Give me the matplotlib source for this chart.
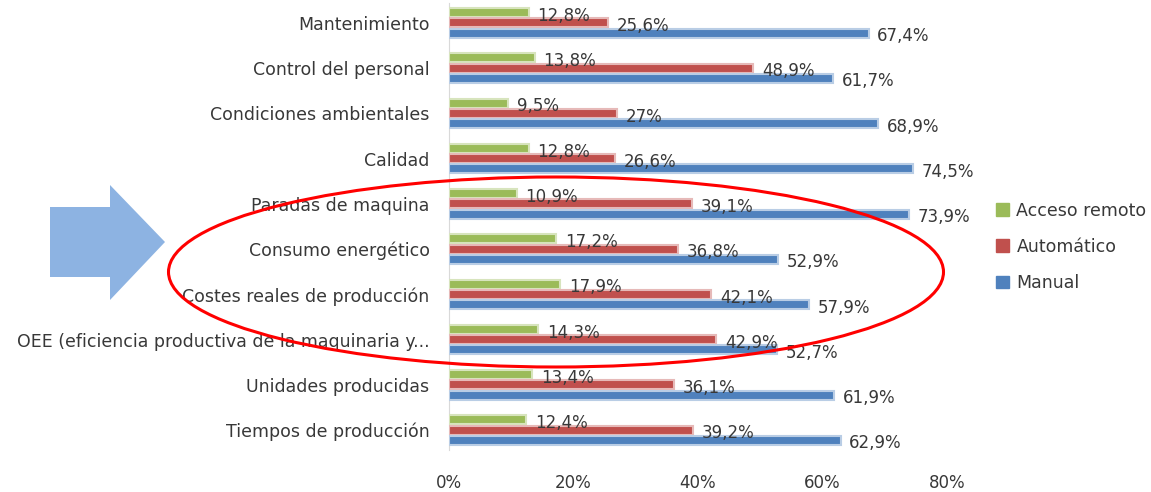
import matplotlib
matplotlib.use("Agg")
import matplotlib.pyplot as plt
from matplotlib.patches import Ellipse, Polygon
import numpy as np

categories = [
    "Mantenimiento",
    "Control del personal",
    "Condiciones ambientales",
    "Calidad",
    "Paradas de maquina",
    "Consumo energético",
    "Costes reales de producción",
    "OEE (eficiencia productiva de la maquinaria y...",
    "Unidades producidas",
    "Tiempos de producción",
]
acceso_remoto = [12.8, 13.8, 9.5, 12.8, 10.9, 17.2, 17.9, 14.3, 13.4, 12.4]
automatico = [25.6, 48.9, 27.0, 26.6, 39.1, 36.8, 42.1, 42.9, 36.1, 39.2]
manual = [67.4, 61.7, 68.9, 74.5, 73.9, 52.9, 57.9, 52.7, 61.9, 62.9]
series_names = ["Acceso remoto", "Automático", "Manual"]
xticks = [0, 20, 40, 60, 80]
xtick_labels = ["0%", "20%", "40%", "60%", "80%"]

colors = ["#9bbb59", "#c0504d", "#4f81bd"]
edge_colors = ["#d7e4bd", "#e6b9b8", "#b9cde5"]

plt.rcParams['font.family'] = ['DejaVu Sans']
txt_color = "#383838"

fig = plt.figure(figsize=(11.51, 4.92), dpi=100)
fig.patch.set_facecolor("white")
ax = fig.add_axes([449/1151, 1-450/492, (947-449)/1151, (450-3)/492])

n = len(categories)
y = np.arange(n)
bh = 0.225
offsets = [-bh, 0, bh]
data = [acceso_remoto, automatico, manual]

def fmt(v):
    s = ("%.1f" % v).replace(".", ",")
    if s.endswith(",0"):
        s = s[:-2]
    return s + "%"

for k, (vals, off) in enumerate(zip(data, offsets)):
    ax.barh(y + off, vals, height=bh * 0.88, color=colors[k],
            edgecolor=edge_colors[k], linewidth=1.5, label=series_names[k], zorder=3)
    for yi, v in zip(y, vals):
        ax.text(v + 1.4, yi + off + 0.07, fmt(v), ha="left", va="center",
                fontsize=12, color=txt_color, zorder=4)

ax.set_xlim(0, 80)
ax.set_ylim(n - 1 + 0.44, -0.44)
ax.set_yticks(y)
ax.set_yticklabels(categories, fontsize=12.5, color=txt_color)
ax.set_xticks(xticks)
ax.set_xticklabels(xtick_labels, fontsize=12, color=txt_color)
ax.tick_params(axis="y", length=0, pad=14)
ax.tick_params(axis="x", length=0, pad=17)
for s in ["top", "right", "bottom"]:
    ax.spines[s].set_visible(False)
ax.spines["left"].set_color("#d9d9d9")

# legend
handles = [plt.Rectangle((0, 0), 1, 1, color=c) for c in colors]
fig.legend(handles, series_names, loc="upper left",
           bbox_to_anchor=(980/1151, 1-186/492), frameon=False,
           fontsize=12.5, handlelength=0.75, handleheight=0.75,
           labelspacing=1.05, handletextpad=0.45, labelcolor=txt_color)

# annotation arrow (figure pixel coords)
W, H = 1151, 492
arrow_px = [(50, 207), (110, 207), (110, 185), (165, 242), (110, 300), (110, 277), (50, 277)]
arrow = Polygon([(x / W, 1 - yy / H) for x, yy in arrow_px], closed=True,
                transform=fig.transFigure, facecolor="#8db3e2", edgecolor="none")
fig.patches.append(arrow)

ell = Ellipse((556 / W, 1 - 272 / H), 775 / W, 190 / H, transform=fig.transFigure,
              facecolor="none", edgecolor="#ff0000", linewidth=2.2, zorder=10)
fig.patches.append(ell)

fig.savefig("out.png", dpi=100, facecolor="white")
